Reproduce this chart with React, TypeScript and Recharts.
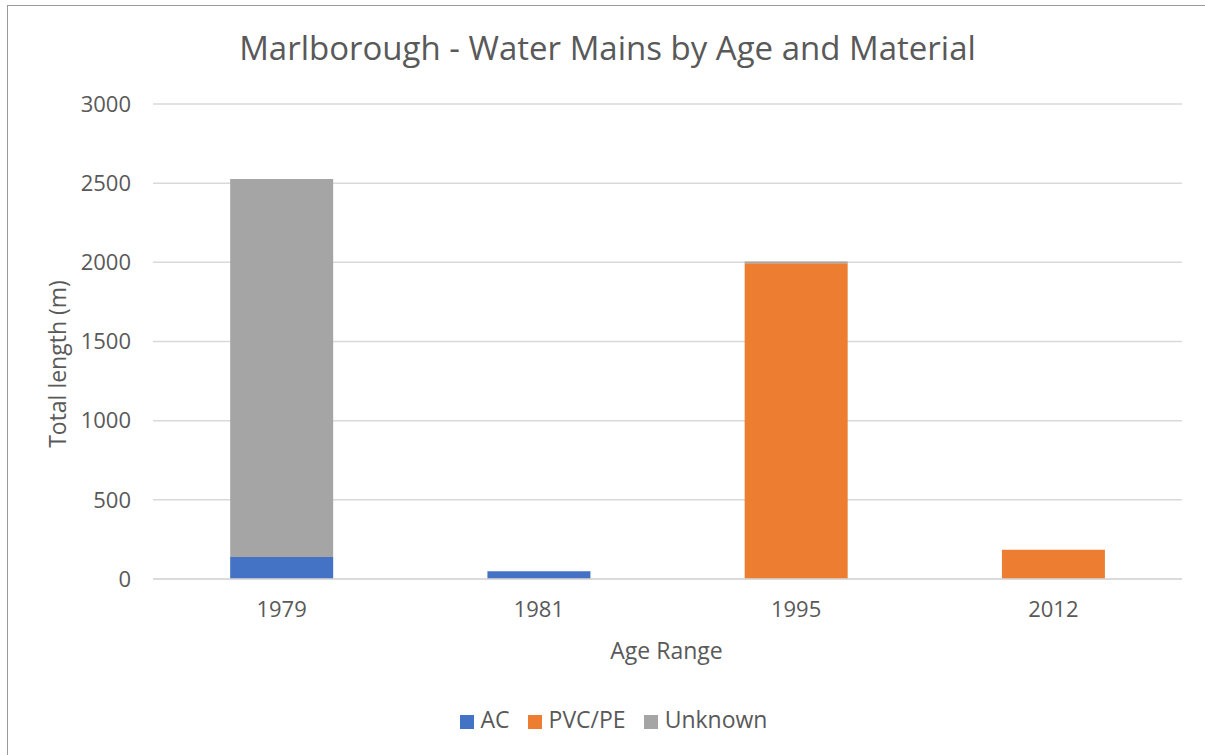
import React from "react";
import { BarChart, Bar, XAxis, YAxis, CartesianGrid, Legend } from "recharts";

const categories = ["1979", "1981", "1995", "2012"];
const acValues = [139, 49, 0, 0];
const pvcValues = [0, 0, 1995, 185];
const unknownValues = [2387, 0, 10, 0];
const yTicks = [0, 500, 1000, 1500, 2000, 2500, 3000];

const data = categories.map((c, i) => ({
  name: c,
  AC: acValues[i],
  "PVC/PE": pvcValues[i],
  Unknown: unknownValues[i],
}));

const FONT = "'Open Sans', 'Noto Sans', sans-serif";
const TXT = "#595959";

export default function App() {
  return (
    <div style={{ position: "absolute", left: 0, top: 0, width: 1205, height: 755, background: "#fff", fontFamily: FONT, overflow: "hidden" }}>
      <div style={{ position: "absolute", left: 7, top: 5, width: 1300, height: 900, borderTop: "1.5px solid #9a9a9a", borderLeft: "1.5px solid #9a9a9a" }} />
      <BarChart
        width={1205}
        height={755}
        data={data}
        margin={{ top: 104, right: 23, bottom: 114, left: 0 }}
        barCategoryGap="30%"
      >
        <CartesianGrid vertical={false} stroke="#d9d9d9" strokeWidth={1.5} />
        <XAxis
          dataKey="name"
          axisLine={{ stroke: "#d9d9d9", strokeWidth: 1.5 }}
          tickLine={false}
          tickSize={0}
          tickMargin={22}
          tick={{ fill: TXT, fontSize: 22, fontFamily: FONT }}
        />
        <YAxis
          width={153}
          domain={[0, 3000]}
          ticks={yTicks}
          axisLine={false}
          tickLine={false}
          tickSize={0}
          tickMargin={22}
          tick={{ fill: TXT, fontSize: 22, fontFamily: FONT }}
        />
        <Legend
          verticalAlign="bottom"
          align="center"
          iconType="square"
          iconSize={14}
          wrapperStyle={{ left: 0, width: 1245, top: 703, fontFamily: FONT, fontSize: 23 }}
          formatter={(v: string) => <span style={{ color: TXT, marginLeft: 3, marginRight: 8 }}>{v}</span>}
        />
        <Bar dataKey="AC" stackId="a" fill="#4472C4" isAnimationActive={false} />
        <Bar dataKey="PVC/PE" stackId="a" fill="#ED7D31" isAnimationActive={false} />
        <Bar dataKey="Unknown" stackId="a" fill="#A5A5A5" isAnimationActive={false} />
      </BarChart>
      <div style={{ position: "absolute", left: 0, width: 1205, top: 24, textAlign: "center", fontSize: 33, color: TXT, lineHeight: "48px" }}>
        <span style={{ position: "relative", left: 5 }}>Marlborough - Water Mains by Age and Material</span>
      </div>
      <div style={{ position: "absolute", left: 0, width: 1333, top: 633, textAlign: "center", fontSize: 23, color: TXT, lineHeight: "34px" }}>
        Age Range
      </div>
      <div style={{ position: "absolute", left: 57, top: 364, width: 0, height: 0 }}>
        <div style={{ position: "absolute", left: -150, top: -17, width: 300, textAlign: "center", fontSize: 23, color: TXT, lineHeight: "34px", transform: "rotate(-90deg)", whiteSpace: "nowrap" }}>
          Total length (m)
        </div>
      </div>
    </div>
  );
}
